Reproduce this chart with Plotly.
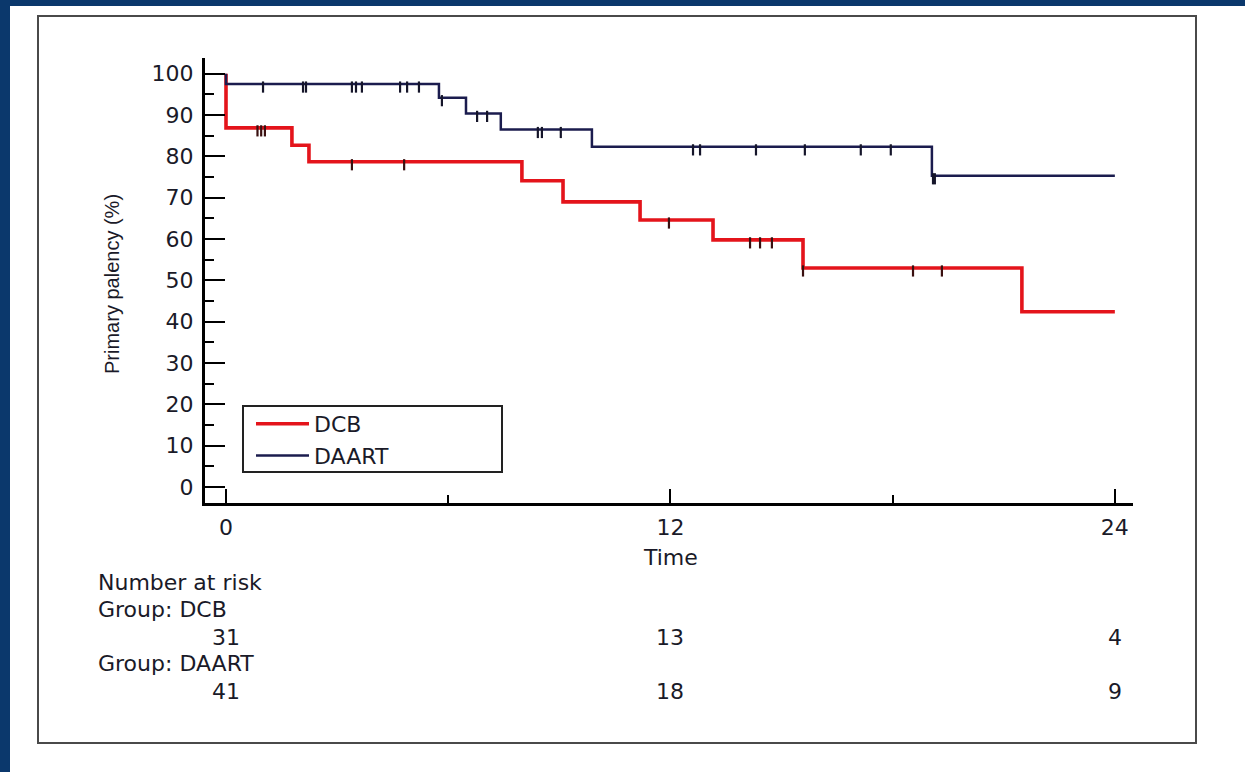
import plotly.graph_objects as go

# ---------------- data ----------------
groups = ["DCB", "DAART"]

dcb_times = [0, 0, 1.78, 2.24, 7.99, 9.10, 11.18, 13.15, 15.58, 21.49, 24]
dcb_surv = [100, 86.9, 82.7, 78.7, 74.1, 69.0, 64.6, 59.8, 53.0, 42.4, 42.4]
dcb_censor = [0.85, 0.95, 1.05, 3.40, 4.81, 11.96, 14.15, 14.42, 14.74,
              15.58, 18.55, 19.33]

daart_times = [0, 0, 5.75, 6.48, 7.42, 9.88, 19.06, 24]
daart_surv = [100, 97.5, 94.2, 90.4, 86.5, 82.3, 75.3, 75.3]
daart_censor = [1.0, 2.08, 2.16, 3.40, 3.51, 3.67, 4.70, 4.89, 5.21, 5.83,
                6.78, 7.05, 8.42, 8.53, 9.04, 12.61, 12.80, 14.31, 15.63,
                17.14, 17.95, 19.09, 19.14]

risk_times = [0, 12, 24]
risk_dcb = [31, 13, 4]
risk_daart = [41, 18, 9]

x_ticks = [0, 12, 24]
y_ticks = list(range(0, 101, 10))

# ---------------- layout geometry ----------------
W, H = 1245, 772
L, R, T, B = 205, 1133, 58, 503          # plot area in pixels
X_RANGE = [-0.567, 24.49]
Y_RANGE = [-3.87, 103.8]

RED = "#e4141b"
NAVY = "#1b1c4e"
TXT = "#1a1a28"
FONT = "DejaVu Sans"
FS = 22


def px(xp):
    return (xp - L) / (R - L)


def py(yp):
    return (B - yp) / (B - T)


def surv_at(times, surv, t):
    v = surv[0]
    for ti, si in zip(times, surv):
        if ti <= t:
            v = si
    return v


unit_px = (B - T) / (Y_RANGE[1] - Y_RANGE[0])
drop = 3.0 / unit_px   # censor ticks hang just below the curve

fig = go.Figure()

fig.add_trace(go.Scatter(x=dcb_times, y=dcb_surv, mode="lines",
                         line=dict(color=RED, width=3.6, shape="hv"),
                         name=groups[0]))
fig.add_trace(go.Scatter(x=daart_times, y=daart_surv, mode="lines",
                         line=dict(color=NAVY, width=2.5, shape="hv"),
                         name=groups[1]))

fig.add_trace(go.Scatter(
    x=dcb_censor,
    y=[surv_at(dcb_times, dcb_surv, t) - drop for t in dcb_censor],
    mode="markers", showlegend=False, hoverinfo="skip",
    marker=dict(symbol="line-ns", size=8,
                line=dict(color="#3a1010", width=2.2))))
fig.add_trace(go.Scatter(
    x=daart_censor,
    y=[surv_at(daart_times, daart_surv, t) - drop for t in daart_censor],
    mode="markers", showlegend=False, hoverinfo="skip",
    marker=dict(symbol="line-ns", size=8,
                line=dict(color="#15152a", width=2.2))))

# ---------------- background panel & legend box ----------------
shapes = [
    dict(type="rect", xref="paper", yref="paper", layer="below",
         x0=px(10), x1=px(1245), y0=py(772), y1=py(6),
         fillcolor="white", line=dict(width=0)),
    dict(type="rect", xref="paper", yref="paper", layer="below",
         x0=px(38), x1=px(1196), y0=py(743), y1=py(16),
         fillcolor="rgba(0,0,0,0)", line=dict(color="#4a4a4a", width=2)),
    dict(type="rect", xref="paper", yref="paper", layer="above",
         x0=px(243), x1=px(502), y0=py(472), y1=py(406),
         fillcolor="rgba(0,0,0,0)", line=dict(color="#222", width=2)),
]

annotations = []
annotations.append(dict(text="Time", xref="x", yref="paper", x=12,
                        y=py(557), xanchor="center", yanchor="middle",
                        showarrow=False,
                        font=dict(family=FONT, size=FS, color=TXT)))
annotations.append(dict(text="Primary palency (%)", xref="paper",
                        yref="paper", x=px(112), y=py(284), textangle=-90,
                        xanchor="center", yanchor="middle",
                        showarrow=False,
                        font=dict(family="Liberation Sans", size=20,
                                  color=TXT)))

rows = [("Number at risk", 582), ("Group: DCB", 609),
        ("Group: DAART", 664)]
for txt, yy in rows:
    annotations.append(dict(text=txt, xref="paper", yref="paper",
                            x=px(96), y=py(yy), xanchor="left",
                            yanchor="middle", showarrow=False,
                            font=dict(family=FONT, size=FS, color=TXT)))
for t, n in zip(risk_times, risk_dcb):
    annotations.append(dict(text=str(n), xref="x", yref="paper", x=t,
                            y=py(637), xanchor="center", yanchor="middle",
                            showarrow=False,
                            font=dict(family=FONT, size=FS, color=TXT)))
for t, n in zip(risk_times, risk_daart):
    annotations.append(dict(text=str(n), xref="x", yref="paper", x=t,
                            y=py(691), xanchor="center", yanchor="middle",
                            showarrow=False,
                            font=dict(family=FONT, size=FS, color=TXT)))

fig.update_layout(
    width=W, height=H,
    margin=dict(l=L, r=W - R, t=T, b=H - B, pad=0),
    paper_bgcolor="#0b386c",
    plot_bgcolor="white",
    shapes=shapes,
    annotations=annotations,
    showlegend=True,
    legend=dict(x=px(251), y=py(403), xanchor="left", yanchor="top",
                bgcolor="rgba(0,0,0,0)", borderwidth=0,
                font=dict(family=FONT, size=FS, color=TXT),
                itemwidth=53, tracegroupgap=0),
    xaxis=dict(range=X_RANGE, showgrid=False, zeroline=False,
               showline=True, linecolor="black", linewidth=3,
               tickmode="array", tickvals=x_ticks,
               ticks="inside", ticklen=14, tickwidth=2, tickcolor="black",
               minor=dict(tickmode="array", tickvals=[6, 18],
                          ticks="inside", ticklen=8, tickwidth=2,
                          tickcolor="black"),
               tickfont=dict(family=FONT, size=FS, color=TXT),
               ticklabelstandoff=3),
    yaxis=dict(range=Y_RANGE, showgrid=False, zeroline=False,
               showline=True, linecolor="black", linewidth=3,
               tickmode="array", tickvals=y_ticks,
               ticks="inside", ticklen=20, tickwidth=2, tickcolor="black",
               minor=dict(tickmode="array",
                          tickvals=[v + 5 for v in y_ticks[:-1]],
                          ticks="inside", ticklen=9, tickwidth=2,
                          tickcolor="black"),
               tickfont=dict(family=FONT, size=FS, color=TXT),
               ticklabelstandoff=4),
)

fig.write_html("out.html", config={"displayModeBar": False},
               post_script="document.body.style.margin='0';")
